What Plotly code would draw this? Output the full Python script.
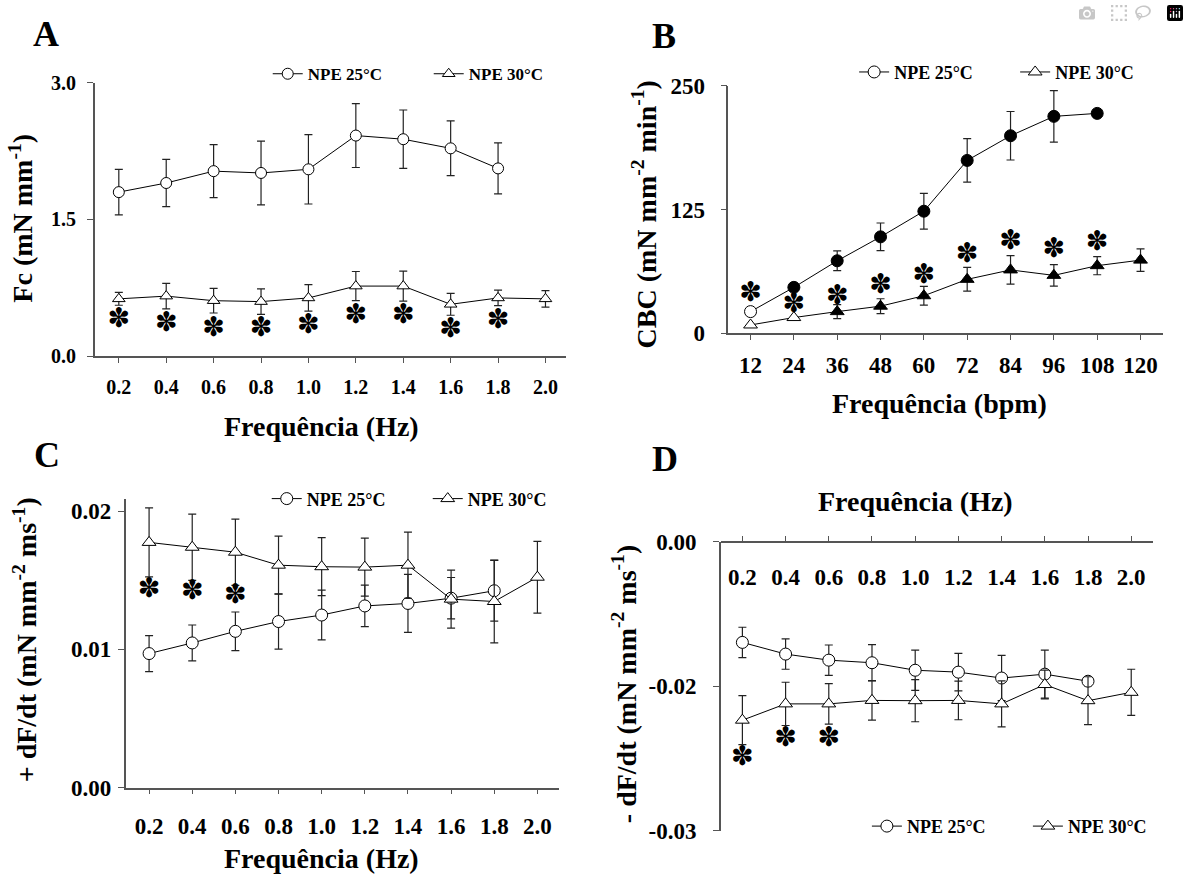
import plotly.graph_objects as go

W, H = 1189, 888

# ---------------- data ----------------
freq_hz = ["0.2", "0.4", "0.6", "0.8", "1.0", "1.2", "1.4", "1.6", "1.8", "2.0"]
freq_bpm = ["12", "24", "36", "48", "60", "72", "84", "96", "108", "120"]

# Panel A: Fc (mN mm-1)
A_25 = [1.80, 1.90, 2.03, 2.01, 2.05, 2.42, 2.38, 2.28, 2.06]
A_25_err = [0.25, 0.26, 0.29, 0.35, 0.38, 0.35, 0.32, 0.30, 0.28]
A_30 = [0.63, 0.66, 0.61, 0.60, 0.64, 0.77, 0.77, 0.57, 0.64, 0.63]
A_30_err = [0.07, 0.14, 0.135, 0.14, 0.145, 0.16, 0.165, 0.12, 0.085, 0.09]
A_sig_x = ["0.2", "0.4", "0.6", "0.8", "1.0", "1.2", "1.4", "1.6", "1.8"]
A_sig_y = [0.40, 0.35, 0.295, 0.295, 0.33, 0.437, 0.437, 0.284, 0.383]

# Panel B: CBC (mN mm-2 min-1)
B_25 = [22.0, 46.5, 73.3, 97.5, 123.4, 174.7, 199.6, 219.2, 222.2]
B_25_err = [0, 0, 10, 14, 18, 22, 24.5, 26, 0]
B_25_fill = ["white", "black", "black", "black", "black", "black", "black", "black", "black"]
B_30 = [8.5, 16.0, 22.0, 27.5, 38.0, 54.6, 64.1, 58.6, 68.4, 74.0]
B_30_err = [0, 0, 7, 7.5, 9.5, 12, 14.4, 10.8, 9.2, 11.4]
B_30_fill = ["white", "white", "black", "black", "black", "black", "black", "black", "black", "black"]
B_sig_x = ["12", "24", "36", "48", "60", "72", "84", "96", "108"]
B_sig_y = [39.5, 28.5, 36.6, 47.1, 57.9, 78.5, 91.6, 84.0, 90.6]

# Panel C: +dF/dt
C_25 = [0.00970, 0.01047, 0.01131, 0.01202, 0.01249, 0.01315, 0.01333, 0.01371, 0.01425]
C_25_err = [0.0013, 0.0013, 0.0014, 0.0020, 0.0018, 0.0015, 0.0021, 0.0015, 0.0022]
C_30 = [0.01775, 0.01740, 0.01704, 0.01610, 0.01599, 0.01596, 0.01610, 0.01364, 0.01347, 0.01523]
C_30_err = [0.0025, 0.0024, 0.0024, 0.0021, 0.0021, 0.0021, 0.0024, 0.0021, 0.0030, 0.0026]
C_sig_x = ["0.2", "0.4", "0.6"]
C_sig_y = [0.0143, 0.01413, 0.01383]

# Panel D: -dF/dt
D_25 = [-0.01696, -0.01777, -0.01819, -0.01837, -0.01889, -0.01902, -0.01943, -0.01916, -0.01965]
D_25_err = [0.00105, 0.00105, 0.00105, 0.00126, 0.0014, 0.0013, 0.00157, 0.00166, 0.0003]
D_30 = [-0.02235, -0.02122, -0.02122, -0.02098, -0.02100, -0.02098, -0.02122, -0.01988, -0.02100, -0.02042]
D_30_err = [0.0017, 0.0015, 0.0014, 0.00137, 0.00146, 0.00134, 0.0016, 0.0010, 0.00166, 0.0016]
D_sig_x = ["0.2", "0.4", "0.6"]
D_sig_y = [-0.02502, -0.02367, -0.02367]

A_ticks = [0.0, 1.5, 3.0]
B_ticks = [0, 125, 250]
C_ticks = [0.00, 0.01, 0.02]
D_tickvals = [-0.03, -0.02, -0.01]
D_ticktext = ["-0.03", "-0.02", "0.00"]

label_25 = "NPE 25°C"
label_30 = "NPE 30°C"
SIG = "✽"

# ---------------- styling helpers ----------------
SERIF = "Liberation Serif"
AX_COLOR = "#555555"


def px(x):
    return x / W


def py(y):
    return 1 - y / H


fig = go.Figure()


def add_panel(xcats, y25, e25, y30, e30, sigx, sigy, xa, ya, leg,
              fill25="white", fill30="white", msize=12):
    fig.add_trace(go.Scatter(
        x=xcats[:len(y25)], y=y25, name=label_25, mode="lines+markers",
        line=dict(color="black", width=1),
        marker=dict(symbol="circle", size=msize, color=fill25,
                    line=dict(color="black", width=1)),
        error_y=dict(type="data", array=e25, visible=True, color="#222222",
                     thickness=1.2, width=4),
        xaxis=xa, yaxis=ya, legend=leg, hoverinfo="skip"))
    fig.add_trace(go.Scatter(
        x=xcats[:len(y30)], y=y30, name=label_30, mode="lines+markers",
        line=dict(color="black", width=1),
        marker=dict(symbol="triangle-up", size=msize, color=fill30,
                    line=dict(color="black", width=1)),
        error_y=dict(type="data", array=e30, visible=True, color="#222222",
                     thickness=1.2, width=4),
        xaxis=xa, yaxis=ya, legend=leg, hoverinfo="skip"))
    fig.add_trace(go.Scatter(
        x=sigx, y=sigy, mode="text", text=[SIG] * len(sigx),
        textposition="middle center",
        textfont=dict(family="DejaVu Sans", size=27, color="black"),
        showlegend=False, xaxis=xa, yaxis=ya, hoverinfo="skip"))


add_panel(freq_hz, A_25, A_25_err, A_30, A_30_err, A_sig_x, A_sig_y, "x", "y", "legend", msize=11)
add_panel(freq_bpm, B_25, B_25_err, B_30, B_30_err, B_sig_x, B_sig_y, "x2", "y2", "legend2",
          fill25=B_25_fill, fill30=B_30_fill, msize=12)
add_panel(freq_hz, C_25, C_25_err, C_30, C_30_err, C_sig_x, C_sig_y, "x3", "y3", "legend3", msize=12)
add_panel(freq_hz, D_25, D_25_err, D_30, D_30_err, D_sig_x, D_sig_y, "x4", "y4", "legend4", msize=12)


def xax(dom, cats, rng, anchor, fsize, standoff, ticks="outside", position=None):
    d = dict(domain=[px(dom[0]), px(dom[1])], anchor=anchor, type="category",
             categoryorder="array", categoryarray=cats, range=rng,
             showline=True, linecolor=AX_COLOR, linewidth=1.5,
             ticks=ticks, ticklen=5, tickcolor=AX_COLOR, tickwidth=1.2,
             tickfont=dict(family=SERIF, size=fsize, color="black", weight="bold"),
             ticklabelstandoff=standoff,
             showgrid=False, zeroline=False, side="bottom", fixedrange=True)
    if position is not None:
        d["position"] = position
    return d


def yax(dom, rng, anchor, tickvals, ticktext, fsize, standoff):
    return dict(domain=[py(dom[1]), py(dom[0])], anchor=anchor, range=rng,
                tickmode="array", tickvals=tickvals, ticktext=ticktext,
                showline=True, linecolor=AX_COLOR, linewidth=1.5,
                ticks="outside", ticklen=6, tickcolor=AX_COLOR, tickwidth=1.2,
                tickfont=dict(family=SERIF, size=fsize, color="black", weight="bold"),
                ticklabelstandoff=standoff,
                showgrid=False, zeroline=False, fixedrange=True)


D_TOP = 545.3

layout = dict(
    width=W, height=H, margin=dict(l=0, r=0, t=0, b=0),
    paper_bgcolor="white", plot_bgcolor="white",
    xaxis=xax((96.5, 577.5), freq_hz, [-0.51, 9.44], "y", 20, 7),
    yaxis=yax((72.7, 354.3), [0, 3.0], "x", A_ticks, [f"{v:.1f}" for v in A_ticks], 20, 7),
    xaxis2=xax((742.8, 1186), freq_bpm, [-0.51, 9.52], "y2", 23, 5),
    yaxis2=yax((76, 330.7), [0, 250], "x2", B_ticks, [str(v) for v in B_ticks], 23, 11),
    xaxis3=xax((128, 570), freq_hz, [-0.546, 9.5], "y3", 23, 12),
    yaxis3=yax((501, 798), [0, 0.0209], "x3", C_ticks, [f"{v:.2f}" for v in C_ticks], 23, 2),
    # panel D: x axis line at the top of the plot, labels just under it
    xaxis4=xax((735, 1176), freq_hz, [-0.5, 9.51], "free", 23, 15,
               ticks="inside", position=py(D_TOP)),
    yaxis4=yax((D_TOP, 842.3), [-0.03, -0.01], "x4", D_tickvals, D_ticktext, 23, 12),
)


def legend(x_left, y_mid, fsize):
    return dict(orientation="h", x=px(x_left), y=py(y_mid), xanchor="left", yanchor="middle",
                font=dict(family=SERIF, size=fsize, color="black", weight="bold"),
                bgcolor="rgba(0,0,0,0)", itemwidth=30, entrywidthmode="pixels",
                entrywidth=116, itemclick=False, itemdoubleclick=False)


layout["legend"] = legend(273, 64, 17)
layout["legend2"] = legend(871, 62, 18)
layout["legend3"] = legend(272, 501, 18)
layout["legend4"] = legend(884, 838, 18)

annotations = []


def ann(text, x, y, size, angle=0):
    annotations.append(dict(text=text, x=px(x), y=py(y), xref="paper", yref="paper",
                            xanchor="center", yanchor="middle", showarrow=False,
                            textangle=angle,
                            font=dict(family=SERIF, size=size, color="black", weight="bold")))


# panel letters
ann("A", 47, 23, 36)
ann("B", 677, 25, 36)
ann("C", 48, 456, 36)
ann("D", 678, 460, 36)
# x titles
ann("Frequência (Hz)", 328, 427, 28)
ann("Frequência (bpm)", 958, 403, 28)
ann("Frequência (Hz)", 328, 871, 28)
ann("Frequência (Hz)", 934, 504, 28)
# y titles
ann("Fc (mN mm<sup>-1</sup>)", 21, 212, 28, -90)
ann("CBC (mN mm<sup>-2</sup> min<sup>-1</sup>)", 657, 208, 28, -90)
ann("+ dF/dt (mN mm<sup>-2</sup> ms<sup>-1</sup>)", 26, 646, 28, -90)
ann("- dF/dt (mN mm<sup>-2</sup> ms<sup>-1</sup>)", 637, 692, 28, -90)

layout["annotations"] = annotations
fig.update_layout(**layout)

fig.write_html("out.html",
               post_script="document.body.style.margin='0';document.body.style.overflow='hidden';")
